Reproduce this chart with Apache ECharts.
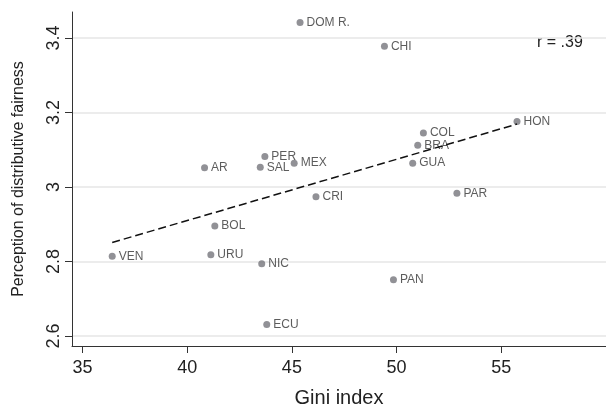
<!DOCTYPE html>
<html>
<head>
<meta charset="utf-8">
<script src="https://cdn.jsdelivr.net/npm/echarts@6/dist/echarts.min.js"></script>
<style>
  html, body { margin: 0; padding: 0; background: #fff; }
  #chart { width: 606px; height: 413px; }
</style>
</head>
<body>
<div id="chart"></div>
<script>
  // countries, gini index, perceived fairness
  var countries = ['DOM R.', 'CHI', 'HON', 'COL', 'BRA', 'PER', 'MEX', 'AR', 'SAL', 'GUA',
                   'PAR', 'CRI', 'BOL', 'URU', 'VEN', 'NIC', 'PAN', 'ECU'];
  var gini = [45.39, 49.42, 55.75, 51.28, 51.01, 43.71, 45.11, 40.83, 43.49, 50.77,
              52.88, 46.15, 41.32, 41.13, 36.42, 43.56, 49.85, 43.80];
  var fairness = [3.442, 3.378, 3.176, 3.145, 3.112, 3.082, 3.064, 3.052, 3.053, 3.064,
                  2.983, 2.974, 2.895, 2.818, 2.814, 2.794, 2.751, 2.631];

  // fitted line endpoints
  var fitX = [36.42, 55.75];
  var fitY = [2.851, 3.169];

  var xTicks = [35, 40, 45, 50, 55];
  var yTicks = [2.6, 2.8, 3, 3.2, 3.4];

  var pts = [];
  for (var i = 0; i < countries.length; i++) {
    pts.push({ value: [gini[i], fairness[i]], name: countries[i] });
  }
  var fitData = [];
  for (var j = 0; j < fitX.length; j++) {
    fitData.push([fitX[j], fitY[j]]);
  }

  var myChart = echarts.init(document.getElementById('chart'));
  var font = 'Liberation Sans, Arial, sans-serif';
  var option = {
    animation: false,
    grid: { left: 72, right: 0, top: 12, bottom: 61 },
    xAxis: {
      type: 'value',
      min: 34.5,
      max: 60,
      name: 'Gini index',
      nameLocation: 'middle',
      nameGap: 42,
      nameTextStyle: { fontFamily: font, fontSize: 20, color: '#222' },
      axisLine: { show: true, lineStyle: { color: '#333', width: 1 } },
      axisTick: { show: true, length: 7, customValues: xTicks, lineStyle: { color: '#333' } },
      axisLabel: { customValues: xTicks, margin: 13, fontFamily: font, fontSize: 18, color: '#222' },
      splitLine: { show: false }
    },
    yAxis: {
      type: 'value',
      min: 2.573,
      max: 3.47,
      name: 'Perception of distributive fairness',
      nameLocation: 'middle',
      nameGap: 45,
      nameTextStyle: { fontFamily: font, fontSize: 16, color: '#222' },
      axisLine: { show: true, lineStyle: { color: '#333', width: 1 } },
      axisTick: { show: true, length: 7, customValues: yTicks, lineStyle: { color: '#333' } },
      axisLabel: {
        customValues: yTicks, rotate: 90, margin: 9,
        fontFamily: font, fontSize: 18, color: '#222',
        formatter: function (v) { return String(Math.round(v * 10) / 10); }
      },
      splitLine: { show: false }
    },
    series: [
      {
        type: 'scatter',
        data: pts,
        symbolSize: 7,
        itemStyle: { color: '#76767c' },
        label: {
          show: true,
          position: 'right',
          distance: 3,
          formatter: '{b}',
          fontFamily: font,
          fontSize: 12,
          color: '#333'
        },
        markLine: {
          silent: true,
          symbol: 'none',
          label: { show: false },
          lineStyle: { color: '#e6e6e6', width: 1.5, type: 'solid' },
          data: yTicks.map(function (t) { return { yAxis: t }; }),
          z: 0
        },
        z: 3
      },
      {
        type: 'line',
        data: fitData,
        symbol: 'none',
        lineStyle: { color: '#111', width: 1.5, type: [8, 4] },
        z: 4
      }
    ],
    graphic: [
      {
        type: 'text',
        left: 537,
        top: 35,
        style: { text: 'r = .39', fontFamily: font, fontSize: 16, fill: '#222' }
      }
    ]
  };
  myChart.setOption(option);
</script>
</body>
</html>
